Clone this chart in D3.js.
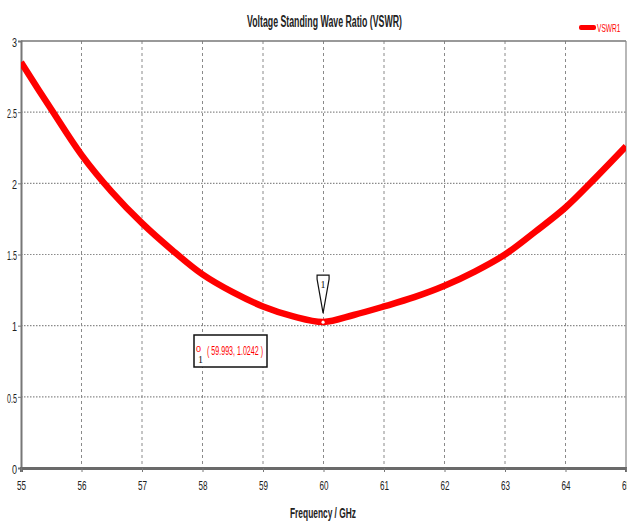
<!DOCTYPE html>
<html>
<head>
<meta charset="utf-8">
<script src="https://cdn.jsdelivr.net/npm/d3@7"></script>
<style>
  html, body { margin: 0; padding: 0; background: #fff; }
  svg { display: block; }
  text { font-family: "Liberation Sans", Arial, sans-serif; }
</style>
</head>
<body>
<svg id="chart" width="627" height="523"></svg>
<script>
// VSWR sweep of the antenna, 55–65 GHz
const freqGHz = [55, 55.5, 56, 56.5, 57, 57.5, 58, 58.5, 59, 59.5, 60, 60.5, 61, 61.5, 62, 62.5, 63, 63.5, 64, 64.5, 65];
const vswr    = [2.85, 2.52, 2.2, 1.94, 1.72, 1.53, 1.36, 1.235, 1.135, 1.065, 1.026, 1.075, 1.135, 1.2, 1.28, 1.38, 1.5, 1.66, 1.83, 2.04, 2.26];
const xTicks = [55, 56, 57, 58, 59, 60, 61, 62, 63, 64, 65];
const yTicks = [0, 0.5, 1, 1.5, 2, 2.5, 3];
const yTickLabels = ["0", "0.5", "1", "1.5", "2", "2.5", "3"];
const markerFreq = 59.993;
const markerVswr = 1.0242;
const seriesName = "VSWR1";

const svg = d3.select("#chart");
const plotL = 21, plotR = 626, plotT = 41, plotB = 468;

const x = d3.scaleLinear().domain([55, 65]).range([plotL, plotR]);
const y = d3.scaleLinear().domain([0, 3]).range([plotB, plotT]);

// title
svg.append("text")
  .attr("x", 247).attr("y", 27)
  .attr("textLength", 155).attr("lengthAdjust", "spacingAndGlyphs")
  .attr("font-size", 16).attr("font-weight", "bold").attr("fill", "#222")
  .text("Voltage Standing Wave Ratio (VSWR)");

// legend (narrowed with a horizontal scale so it stays inside the page)
svg.append("rect").attr("x", 579).attr("y", 25).attr("width", 17).attr("height", 5)
  .attr("rx", 2).attr("fill", "#ff0000");
svg.append("text").attr("transform", "translate(597,32) scale(0.6,1)")
  .attr("font-size", 11).attr("fill", "#ff0000").text(seriesName);

// grid
const grid = svg.append("g");
grid.selectAll("line.v").data(xTicks.slice(1, -1)).join("line")
  .attr("x1", d => x(d)).attr("x2", d => x(d))
  .attr("y1", plotT).attr("y2", plotB)
  .attr("stroke", "#8a8a8a").attr("stroke-width", 1).attr("stroke-dasharray", "3,3");
grid.selectAll("line.h").data(yTicks.slice(1, -1)).join("line")
  .attr("x1", plotL).attr("x2", plotR)
  .attr("y1", d => y(d)).attr("y2", d => y(d))
  .attr("stroke", "#8a8a8a").attr("stroke-width", 1.2).attr("stroke-dasharray", "1.5,1.5");

// frame
svg.append("line").attr("x1", plotL).attr("x2", plotR).attr("y1", plotT).attr("y2", plotT)
  .attr("stroke", "#777").attr("stroke-width", 1.5);
svg.append("line").attr("x1", plotR).attr("x2", plotR).attr("y1", plotT).attr("y2", plotB)
  .attr("stroke", "#888").attr("stroke-width", 1.2);

// axes
const yAxis = svg.append("g").attr("transform", `translate(${plotL},0)`)
  .call(d3.axisLeft(y).tickValues(yTicks).tickSize(3).tickFormat((d, i) => yTickLabels[i]));
yAxis.select(".domain").attr("stroke", "#777").attr("stroke-width", 2);
yAxis.selectAll(".tick line").attr("stroke", "#777");
yAxis.selectAll(".tick text").attr("x", -4).attr("dy", "0.4em")
  .attr("font-size", 13).attr("fill", "#222")
  .attr("textLength", d => d % 1 === 0 ? 5 : 10).attr("lengthAdjust", "spacingAndGlyphs")
  .style("font-family", "Liberation Sans, Arial, sans-serif");

const xAxis = svg.append("g").attr("transform", `translate(0,${plotB})`)
  .call(d3.axisBottom(x).tickValues(xTicks).tickSize(4).tickFormat(d3.format("d")));
xAxis.select(".domain").attr("stroke", "#6a6a6a").attr("stroke-width", 3);
xAxis.selectAll(".tick line").attr("stroke", "#777");
xAxis.selectAll(".tick text").attr("y", 13).attr("dy", "0.71em")
  .attr("font-size", 13).attr("fill", "#222")
  .attr("textLength", 9).attr("lengthAdjust", "spacingAndGlyphs")
  .style("font-family", "Liberation Sans, Arial, sans-serif");

// axis title
svg.append("text").attr("x", 290).attr("y", 518)
  .attr("textLength", 66).attr("lengthAdjust", "spacingAndGlyphs")
  .attr("font-size", 15).attr("font-weight", "bold").attr("fill", "#222")
  .text("Frequency / GHz");

// curve
svg.append("clipPath").attr("id", "plotClip").append("rect")
  .attr("x", plotL).attr("y", plotT).attr("width", plotR - plotL).attr("height", plotB - plotT);
const pts = freqGHz.map((f, i) => [f, vswr[i]]);
svg.append("path").datum(pts)
  .attr("clip-path", "url(#plotClip)")
  .attr("fill", "none").attr("stroke", "#ff0000").attr("stroke-width", 6.5)
  .attr("d", d3.line().x(d => x(d[0])).y(d => y(d[1])).curve(d3.curveCatmullRom.alpha(0.5)));

// marker at the minimum
const mx = x(markerFreq), my = y(markerVswr);
svg.append("circle").attr("cx", mx).attr("cy", my).attr("r", 1.6).attr("fill", "#fff");
svg.append("path")
  .attr("d", `M${mx - 6},${my - 47} L${mx + 6},${my - 47} L${mx + 6},${my - 43} L${mx},${my - 9} L${mx - 6},${my - 43} Z`)
  .attr("fill", "#fff").attr("stroke", "#111").attr("stroke-width", 1.2);
svg.append("text").attr("x", mx).attr("y", my - 34).attr("text-anchor", "middle")
  .attr("font-size", 10).attr("fill", "#111")
  .style("font-family", "Liberation Serif, serif").text("1");

// readout box
svg.append("rect").attr("x", 194).attr("y", 335).attr("width", 73).attr("height", 32)
  .attr("fill", "#fff").attr("stroke", "#111").attr("stroke-width", 1.5);
svg.append("text").attr("x", 196).attr("y", 352)
  .attr("font-size", 9).attr("fill", "#ff0000").text("0");
svg.append("text").attr("x", 198).attr("y", 363)
  .attr("font-size", 10).attr("fill", "#111")
  .style("font-family", "Liberation Serif, serif").text("1");
svg.append("text").attr("x", 207).attr("y", 355)
  .attr("textLength", 56).attr("lengthAdjust", "spacingAndGlyphs")
  .attr("font-size", 12).attr("fill", "#ff0000")
  .text(`( ${markerFreq}, ${markerVswr} )`);
</script>
</body>
</html>
